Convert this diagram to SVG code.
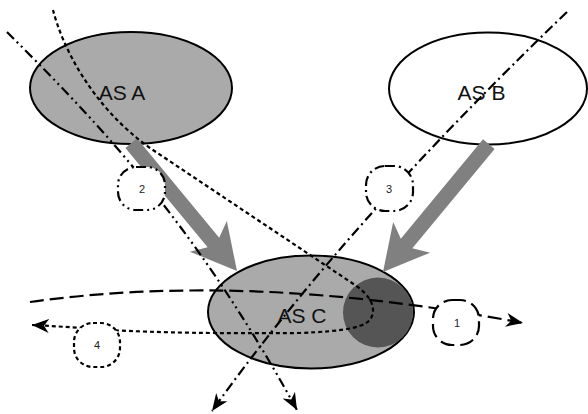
<svg xmlns="http://www.w3.org/2000/svg" width="588" height="414" viewBox="0 0 588 414">
  <style>
    .as { stroke: #000; stroke-width: 2; }
    .asfill { fill: #aaaaaa; }
    .title { font-family: "Liberation Sans", Arial, sans-serif; font-size: 21px; fill: #111; text-anchor: middle; }
    .num { font-family: "Liberation Sans", Arial, sans-serif; font-size: 11px; fill: #222; text-anchor: middle; }
    .big { fill: #808080; }
    .ln { fill: none; stroke: #000; stroke-width: 2.2; }
    .d1 { stroke-dasharray: 14 6; }
    .d2 { stroke-dasharray: 10 4 2 4 2 4; }
    .d3 { stroke-dasharray: 10 4 2 4; }
    .d4 { stroke-dasharray: 4 3; }
    .lbl { fill: #fff; stroke: #000; stroke-width: 2.2; }
  </style>
  <defs>
    <marker id="ah" markerUnits="userSpaceOnUse" markerWidth="18" markerHeight="14" refX="17" refY="7" orient="auto" viewBox="0 0 18 14">
      <path d="M0,0 L17,7 L0,14 L5,7 Z" fill="#000"/>
    </marker>
    <polygon id="blk" points="0,0 -45,-24 -37,-7.5 -166,-7.5 -166,7.5 -37,7.5 -45,24"/>
  </defs>

  <g id="nodeA">
    <ellipse class="as asfill" cx="131" cy="88" rx="101" ry="56"/>
    <text class="title" x="122" y="100">AS A</text>
  </g>
  <g id="nodeB">
    <ellipse class="as" fill="#fff" cx="488" cy="88.5" rx="99" ry="56"/>
    <text class="title" x="481.5" y="100">AS B</text>
  </g>
  <g id="nodeC">
    <ellipse class="as asfill" cx="311" cy="312" rx="103" ry="56.5"/>
    <circle cx="378" cy="312.5" r="35" fill="#555555"/>
    <text class="title" x="302" y="323">AS C</text>
  </g>

  <g id="bigArrows">
    <use href="#blk" class="big" transform="translate(237,271) rotate(50.4)"/>
    <use href="#blk" class="big" transform="translate(383,272) rotate(129.6)"/>
  </g>

  <g id="connectors">
    <path class="ln d1" d="M30,302 Q250,271 523,323" marker-end="url(#ah)"/>
    <path class="ln d2" d="M7,32 C90,115 190,215 297,410" marker-end="url(#ah)"/>
    <path class="ln d3" d="M567,12 Q344,226 212,411" marker-end="url(#ah)"/>
    <path class="ln d4" d="M53,10 C62,45 90,105 150,148 L355,285 C368,294 376,305 372,316 C368,328 345,331 300,333 Q180,334 110,330 Q70,327 32,325" marker-end="url(#ah)"/>
  </g>

  <g id="label1">
    <rect class="lbl d1" x="433" y="300" width="46" height="45" rx="19"/>
    <text class="num" x="457" y="327">1</text>
  </g>
  <g id="label2">
    <rect class="lbl d2" x="118" y="167" width="47" height="43" rx="18"/>
    <text class="num" x="142" y="193">2</text>
  </g>
  <g id="label3">
    <rect class="lbl d3" x="366" y="166" width="47" height="45" rx="19"/>
    <text class="num" x="389" y="193">3</text>
  </g>
  <g id="label4">
    <rect class="lbl d4" x="74" y="323" width="46" height="44" rx="19"/>
    <text class="num" x="97" y="349">4</text>
  </g>
</svg>
